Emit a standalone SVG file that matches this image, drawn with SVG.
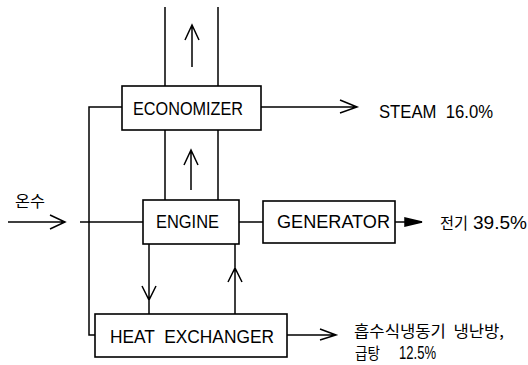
<svg xmlns="http://www.w3.org/2000/svg" width="528" height="365" viewBox="0 0 528 365">
<style>
.b{fill:#fff;stroke:#000;stroke-width:1.6}
.l{fill:none;stroke:#000;stroke-width:1.5}
.t{font-family:"Liberation Sans",Arial,sans-serif;font-size:19px;fill:#000}
.k{font-family:"Noto Sans CJK KR","Noto Sans",sans-serif;font-size:16px;fill:#000}
</style>
<rect width="528" height="365" fill="#fff"/>
<g id="connectors" class="l">
<path d="M165 7V86M218 7V86"/>
<path d="M192 67V26M185 40L192 25L199 40"/>
<path d="M165 130V200M218 130V200"/>
<path d="M191 190V151M184 165L191 150L198 165"/>
<path d="M122 107H89V335H95"/>
<path d="M261 107H356M340 100L357 107L340 113"/>
<path d="M8 222H65M50 215L65 222L50 229"/>
<path d="M80 222H143"/>
<path d="M239 222H263"/>
<path d="M395 222H422"/>
<path d="M405 218L422 222L405 226Z" fill="#000"/>
<path d="M149 244V314M142 286L149 300L156 286"/>
<path d="M235 314V244M228 282L235 268L242 282"/>
<path d="M287 335H336M320 329L336 335L320 340"/>
</g>
<g id="economizer">
<rect class="b" x="122" y="86" width="139" height="44"/>
<text class="t" x="133" y="115" textLength="110" lengthAdjust="spacingAndGlyphs">ECONOMIZER</text>
</g>
<g id="engine">
<rect class="b" x="143" y="200" width="96" height="44"/>
<text class="t" x="156" y="228" textLength="63" lengthAdjust="spacingAndGlyphs">ENGINE</text>
</g>
<g id="generator">
<rect class="b" x="263" y="201" width="132" height="42"/>
<text class="t" x="277" y="228" textLength="113" lengthAdjust="spacingAndGlyphs">GENERATOR</text>
</g>
<g id="heat-exchanger">
<rect class="b" x="95" y="314" width="192" height="43"/>
<text class="t" x="110" y="343" textLength="164" lengthAdjust="spacingAndGlyphs" xml:space="preserve">HEAT  EXCHANGER</text>
</g>
<g id="labels">
<text class="k" x="15" y="207" textLength="30" lengthAdjust="spacingAndGlyphs">온수</text>
<text class="t" x="379" y="118" textLength="114" lengthAdjust="spacingAndGlyphs" xml:space="preserve">STEAM  16.0%</text>
<text class="k" x="440" y="229" textLength="28" lengthAdjust="spacingAndGlyphs">전기</text>
<text class="t" x="473" y="229" textLength="54" lengthAdjust="spacingAndGlyphs">39.5%</text>
<text class="k" x="354" y="337" textLength="150" lengthAdjust="spacingAndGlyphs" xml:space="preserve">흡수식냉동기  냉난방,</text>
<text class="k" x="355" y="359" textLength="25" lengthAdjust="spacingAndGlyphs">급탕</text>
<text class="t" x="399" y="359" textLength="37" lengthAdjust="spacingAndGlyphs">12.5%</text>
</g>
</svg>
